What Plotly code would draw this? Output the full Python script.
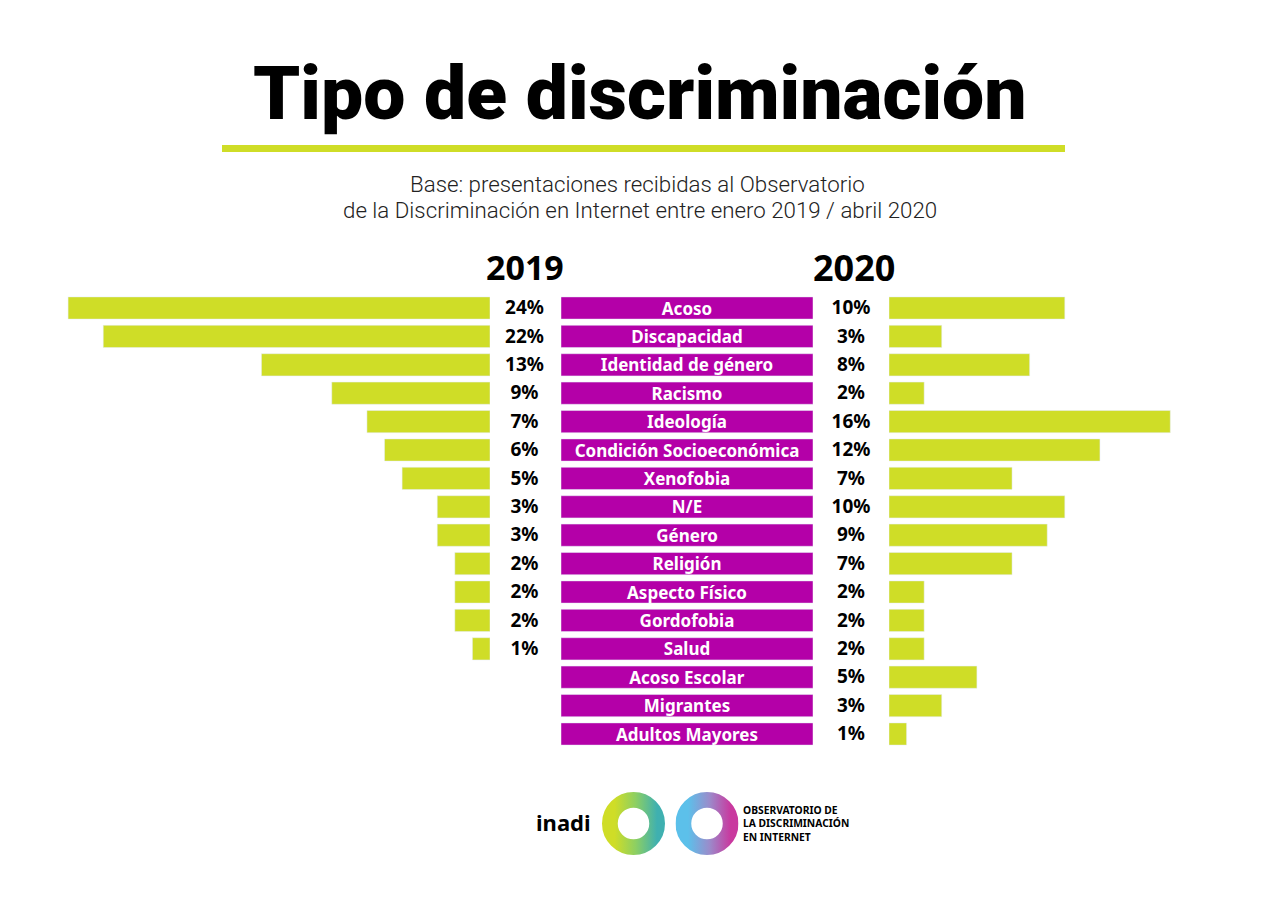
import base64
import plotly.graph_objects as go

categories = ["Acoso", "Discapacidad", "Identidad de género", "Racismo", "Ideología",
              "Condición Socioeconómica", "Xenofobia", "N/E", "Género", "Religión",
              "Aspecto Físico", "Gordofobia", "Salud", "Acoso Escolar", "Migrantes",
              "Adultos Mayores"]
values_2019 = [24, 22, 13, 9, 7, 6, 5, 3, 3, 2, 2, 2, 1, None, None, None]
values_2020 = [10, 3, 8, 2, 16, 12, 7, 10, 9, 7, 2, 2, 2, 5, 3, 1]
band = [1] * len(categories)

W, H = 1280, 911
GREEN = "#cfdd27"
PURPLE = "#b400a8"
BODY = "Noto Sans"
HEAVY = "Roboto"
PX = 17.58


def dx(a, b):
    return [a / W, b / W]


def pct(values):
    return [f"{v}%" if v is not None else "" for v in values]


fig = go.Figure()
fig.add_bar(x=values_2019, y=categories, orientation="h", marker_color=GREEN, xaxis="x", yaxis="y",
            hoverinfo="x+y")
fig.add_bar(x=band, y=categories, orientation="h", marker_color=PURPLE, xaxis="x2", yaxis="y",
            text=categories, textposition="inside", insidetextanchor="middle",
            constraintext="none", textangle=0, cliponaxis=False,
            textfont=dict(family=BODY, size=17, color="white", weight=700), hoverinfo="y")
fig.add_bar(x=values_2020, y=categories, orientation="h", marker_color=GREEN, xaxis="x3", yaxis="y",
            hoverinfo="x+y")
fig.add_scatter(x=[0.5] * len(categories), y=categories, mode="text", text=pct(values_2019),
                textfont=dict(family=BODY, size=19, color="black", weight=700),
                xaxis="x4", yaxis="y2", hoverinfo="skip")
fig.add_scatter(x=[0.5] * len(categories), y=categories, mode="text", text=pct(values_2020),
                textfont=dict(family=BODY, size=19, color="black", weight=700),
                xaxis="x5", yaxis="y2", hoverinfo="skip")

hidden = dict(visible=False, fixedrange=True)
ax_y = dict(hidden, anchor="x", type="category", categoryorder="array", categoryarray=categories,
            range=[len(categories) - 0.5, -0.5],
            domain=[1 - 748.2 / H, 1 - 293.8 / H])
ax_y2 = dict(ax_y, anchor="x4", domain=[1 - 749.7 / H, 1 - 295.3 / H])


def ring(c0, c1, c2):
    svg = f'''<svg xmlns="http://www.w3.org/2000/svg" width="200" height="200" viewBox="0 0 200 200">
<defs><linearGradient id="g" x1="0" x2="1" y1="0" y2="0">
<stop offset="0.1" stop-color="{c0}"/><stop offset="0.55" stop-color="{c1}"/><stop offset="1" stop-color="{c2}"/>
</linearGradient></defs>
<circle cx="100" cy="100" r="75" fill="none" stroke="url(#g)" stroke-width="50"/></svg>'''
    return "data:image/svg+xml;base64," + base64.b64encode(svg.encode()).decode()


def image(src, cx, cy, d):
    return dict(source=src, xref="paper", yref="paper", x=(cx - d / 2) / W, y=1 - (cy - d / 2) / H,
                sizex=d / W, sizey=d / H, xanchor="left", yanchor="top", sizing="stretch", layer="above")


def text(s, x, y, size, family=BODY, weight=700, anchor="center", color="black", **kw):
    return dict(text=s, xref="paper", yref="paper", x=x / W, y=1 - y / H, xanchor=anchor, yanchor="middle",
                showarrow=False, font=dict(family=family, size=size, color=color, weight=weight), **kw)


fig.update_layout(
    width=W, height=H, margin=dict(l=0, r=0, t=0, b=0), autosize=False,
    paper_bgcolor="white", plot_bgcolor="white", showlegend=False, barmode="overlay", bargap=0.22,
    xaxis=dict(hidden, domain=dx(0, 490), range=[490 / PX, 0], anchor="y"),
    xaxis2=dict(hidden, domain=dx(561, 813), range=[0, 1], anchor="y"),
    xaxis3=dict(hidden, domain=dx(889, 1280), range=[0, 391 / PX], anchor="y"),
    xaxis4=dict(hidden, domain=dx(490, 559), range=[0, 1], anchor="y2"),
    xaxis5=dict(hidden, domain=dx(813, 889), range=[0, 1], anchor="y2"),
    yaxis=ax_y,
    yaxis2=ax_y2,
    shapes=[dict(type="rect", xref="paper", yref="paper", x0=222 / W, x1=1065 / W,
                 y0=1 - 152 / H, y1=1 - 145 / H, fillcolor=GREEN, line_width=0)],
    images=[image(ring("#cfdd27", "#8ccf63", "#3fb0b0"), 633.5, 823.5, 63),
            image(ring("#5cc0ea", "#9a8ccb", "#c9399f"), 707, 823.5, 63)],
    annotations=[
        text("Tipo de discriminación", 640, 93, 75, family=HEAVY, weight=900),
        text("Base: presentaciones recibidas al Observatorio", 637, 184, 22.3, family=HEAVY, weight=300, color="#222222"),
        text("de la Discriminación en Internet entre enero 2019 / abril 2020", 640, 210, 22.3, family=HEAVY, weight=300, color="#222222"),
        text("2019", 525, 267, 34),
        text("2020", 853.5, 267, 36),
        text("inadi", 563, 822, 22),
        text("OBSERVATORIO DE<br>LA DISCRIMINACIÓN<br>EN INTERNET", 741, 823, 10.3, anchor="left", align="left"),
    ],
)
fig.write_html("out.html", config=dict(displayModeBar=False),
               post_script="document.body.style.margin='0';")
